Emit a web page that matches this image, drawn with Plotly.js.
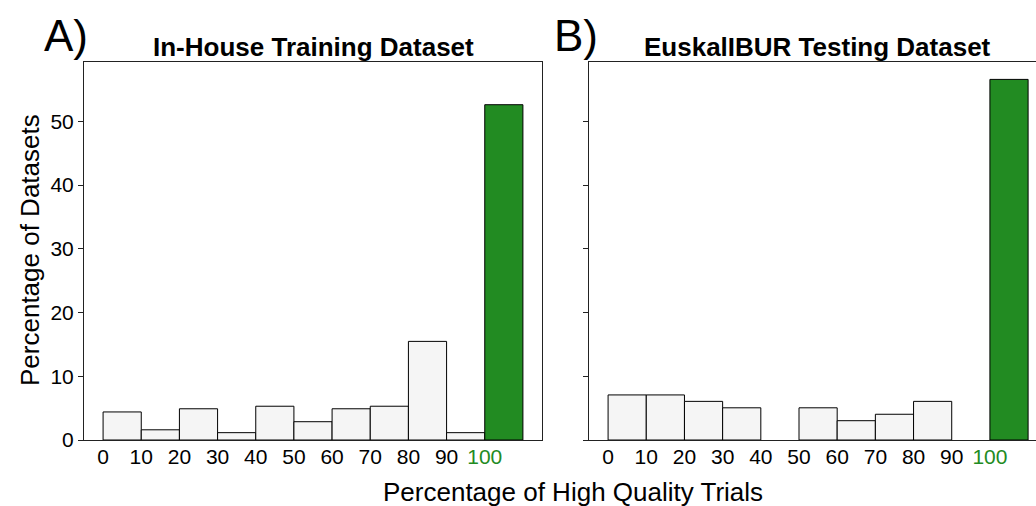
<!DOCTYPE html>
<html>
<head>
<meta charset="utf-8">
<script src="https://cdn.plot.ly/plotly-3.0.1.min.js"></script>
<style>html,body{margin:0;padding:0;background:#fff;}#chart{width:1036px;height:506px;}</style>
</head>
<body>
<div id="chart"></div>
<script>
// Bin starts (percentage of high quality trials)
const binStarts = [0, 10, 20, 30, 40, 50, 60, 70, 80, 90, 100];
// Percentage of datasets per bin
const trainingValues = [4.4, 1.6, 4.9, 1.15, 5.3, 2.87, 4.9, 5.3, 15.47, 1.15, 52.6];
const testingValues = [7.07, 7.07, 6.06, 5.05, 0, 5.05, 3.03, 4.04, 6.06, 0, 56.57];
const tickVals = [0, 10, 20, 30, 40, 50, 60, 70, 80, 90, 100];
const tickLabels = ['0', '10', '20', '30', '40', '50', '60', '70', '80', '90', '<span style="color:#228B22">100</span>'];
const yTicks = [0, 10, 20, 30, 40, 50];
const panelTitles = ['In-House Training Dataset', 'EuskalIBUR Testing Dataset'];
const panelLetters = ['A)', 'B)'];
const xTitle = 'Percentage of High Quality Trials';
const yTitle = 'Percentage of Datasets';

const barColors = binStarts.map(b => b === 100 ? '#228B22' : '#f5f5f5');
const font = '"Liberation Sans", Arial, sans-serif';

function barTrace(vals, xa, ya) {
  return {
    type: 'bar', x: binStarts, y: vals, width: 10, offset: 0,
    xaxis: xa, yaxis: ya,
    marker: {color: barColors, line: {color: '#000', width: vals.map(v => v > 0 ? 1 : 0)}},
    hoverinfo: 'x+y', showlegend: false
  };
}

const W = 1036, H = 506;
const px = v => v / W, py = v => 1 - v / H;

const xCommon = {
  tickmode: 'array', tickvals: tickVals, ticktext: tickLabels,
  ticks: '', showgrid: false, zeroline: false,
  showline: true, linecolor: '#222', linewidth: 1,
  tickfont: {family: font, size: 21, color: '#000'},
  ticklabelstandoff: -2
};
const yCommon = {
  range: [0, 59.3], tickvals: yTicks, ticks: 'outside', ticklen: 5, tickwidth: 1, tickcolor: '#222',
  showgrid: false, zeroline: false, showline: true, linecolor: '#222', linewidth: 1,
  tickfont: {family: font, size: 21, color: '#000'}
};

const layout = {
  width: W, height: H,
  margin: {l: 0, r: 0, t: 0, b: 0},
  paper_bgcolor: '#fff', plot_bgcolor: '#fff',
  bargap: 0,
  xaxis: Object.assign({}, xCommon, {domain: [px(84), px(542)], range: [-5, 115], mirror: true, anchor: 'y'}),
  yaxis: Object.assign({}, yCommon, {domain: [1 - 440 / H, 1 - 62 / H], mirror: true, anchor: 'x'}),
  xaxis2: Object.assign({}, xCommon, {domain: [px(589), 1], range: [-5, 112.07], mirror: true, anchor: 'y2'}),
  yaxis2: Object.assign({}, yCommon, {domain: [1 - 440 / H, 1 - 62 / H], mirror: false, anchor: 'x2', showticklabels: false}),
  annotations: [
    {text: '<b>' + panelTitles[0] + '</b>', xref: 'paper', yref: 'paper', x: px(313), y: py(47), xanchor: 'center', yanchor: 'middle', showarrow: false, font: {family: font, size: 26, color: '#000'}},
    {text: '<b>' + panelTitles[1] + '</b>', xref: 'paper', yref: 'paper', x: px(817), y: py(47), xanchor: 'center', yanchor: 'middle', showarrow: false, font: {family: font, size: 26, color: '#000'}},
    {text: panelLetters[0], xref: 'paper', yref: 'paper', x: px(66), y: py(35), xanchor: 'center', yanchor: 'middle', showarrow: false, font: {family: font, size: 44, color: '#000'}},
    {text: panelLetters[1], xref: 'paper', yref: 'paper', x: px(576), y: py(35), xanchor: 'center', yanchor: 'middle', showarrow: false, font: {family: font, size: 44, color: '#000'}},
    {text: xTitle, xref: 'paper', yref: 'paper', x: px(573), y: py(492), xanchor: 'center', yanchor: 'middle', showarrow: false, font: {family: font, size: 26, color: '#000'}},
    {text: yTitle, xref: 'paper', yref: 'paper', x: px(30), y: py(250), xanchor: 'center', yanchor: 'middle', textangle: -90, showarrow: false, font: {family: font, size: 26, color: '#000'}}
  ]
};

Plotly.newPlot('chart', [barTrace(trainingValues, 'x', 'y'), barTrace(testingValues, 'x2', 'y2')], layout, {displayModeBar: false, staticPlot: true});
</script>
</body>
</html>
